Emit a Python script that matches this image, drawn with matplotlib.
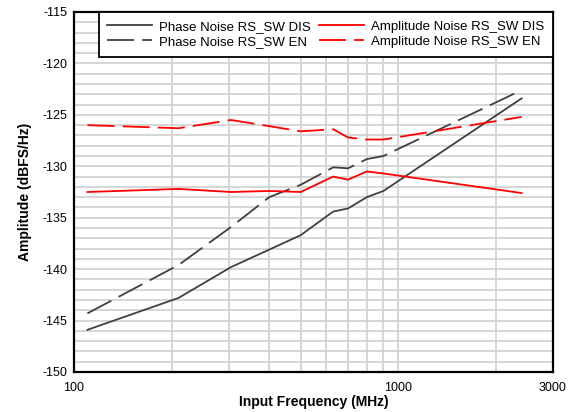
import matplotlib
matplotlib.use("Agg")
import matplotlib.pyplot as plt
from matplotlib.ticker import FixedLocator, NullFormatter, FixedFormatter

plt.rcParams['font.family'] = ['Liberation Sans', 'DejaVu Sans']
plt.rcParams['axes.unicode_minus'] = False

freq = [110, 210, 305, 400, 500, 630, 700, 800, 900, 2400]
phase_dis = [-145.9, -142.8, -139.8, -138.1, -136.7, -134.4, -134.1, -133.0, -132.4, -123.4]
phase_en = [-144.3, -139.6, -135.9, -133.0, -131.8, -130.1, -130.2, -129.3, -129.0, -122.6]
amp_dis = [-132.5, -132.2, -132.5, -132.4, -132.5, -131.0, -131.3, -130.5, -130.7, -132.6]
amp_en = [-126.0, -126.3, -125.5, -126.1, -126.6, -126.4, -127.2, -127.4, -127.4, -125.2]

labels = ["Phase Noise RS_SW DIS", "Phase Noise RS_SW EN",
          "Amplitude Noise RS_SW DIS", "Amplitude Noise RS_SW EN"]
x_ticks = [100, 1000, 3000]
x_tick_labels = ["100", "1000", "3000"]
x_minor = [200, 300, 400, 500, 600, 700, 800, 900, 2000]
y_ticks = [-150, -145, -140, -135, -130, -125, -120, -115]
y_tick_labels = ["-150", "-145", "-140", "-135", "-130", "-125", "-120", "-115"]

fig = plt.figure(figsize=(5.73, 4.12), dpi=100)
ax = fig.add_axes([74/573, 40/412, 479/573, 360/412])

gray = '#404040'
red = '#ff0000'
lw = 1.3
dash = (0, (15, 4.5))
ax.plot(freq, phase_dis, color=gray, lw=lw, label=labels[0])
ax.plot(freq, phase_en, color=gray, lw=lw, ls=dash, label=labels[1])
ax.plot(freq, amp_dis, color=red, lw=lw, label=labels[2])
ax.plot(freq, amp_en, color=red, lw=lw, ls=dash, label=labels[3])

ax.set_xscale('log')
ax.set_xlim(100, 3000)
ax.set_ylim(-150, -115)
ax.xaxis.set_major_locator(FixedLocator(x_ticks))
ax.xaxis.set_major_formatter(FixedFormatter(x_tick_labels))
ax.xaxis.set_minor_locator(FixedLocator(x_minor))
ax.xaxis.set_minor_formatter(NullFormatter())
ax.yaxis.set_major_locator(FixedLocator(y_ticks))
ax.yaxis.set_major_formatter(FixedFormatter(y_tick_labels))
ax.yaxis.set_minor_locator(FixedLocator(list(range(-150, -114))))

ax.grid(True, which='both', color='#d3d3d3', lw=1.3)
ax.set_axisbelow(True)
ax.tick_params(which='both', length=0, labelsize=9)
ax.tick_params(axis='y', pad=5)
ax.tick_params(axis='x', pad=7)

for s in ax.spines.values():
    s.set_linewidth(1.6)
    s.set_color('black')

ax.set_xlabel("Input Frequency (MHz)", fontsize=10, fontweight='bold', labelpad=1)
ax.set_ylabel("Amplitude (dBFS/Hz)", fontsize=10, fontweight='bold', labelpad=7)

leg = ax.legend(ncol=2, loc='upper right', borderaxespad=0, fancybox=False,
                edgecolor='black', framealpha=1, fontsize=9.5, handlelength=3.4,
                columnspacing=0.6, handletextpad=0.55, labelspacing=0.22,
                borderpad=0.65)
leg.get_frame().set_linewidth(1.3)

fig.savefig("out.png", dpi=100)
